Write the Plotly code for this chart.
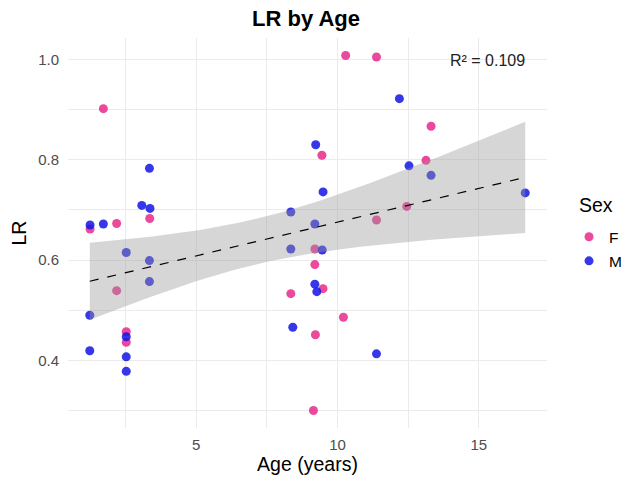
import numpy as np
import plotly.graph_objects as go

# Female observations
f_age = [1.72, 3.36, 2.19, 1.25, 2.19, 2.53, 2.53, 10.29, 11.38, 13.31, 9.45,
         13.13, 12.45, 11.38, 9.20, 9.20, 9.49, 8.35, 10.21, 9.22, 9.15]
f_lr = [0.902, 0.683, 0.673, 0.662, 0.539, 0.457, 0.436, 1.008, 1.005, 0.867, 0.809,
        0.799, 0.707, 0.680, 0.622, 0.591, 0.543, 0.533, 0.486, 0.451, 0.300]

# Male observations
m_age = [3.35, 3.08, 3.37, 1.25, 1.72, 2.53, 3.35, 3.35, 1.24, 2.53, 1.24, 2.53, 2.53,
         12.19, 9.23, 12.53, 13.31, 9.49, 16.64, 8.35, 9.20, 8.35, 9.46, 9.20, 9.27,
         8.42, 11.38]
m_lr = [0.783, 0.709, 0.703, 0.670, 0.672, 0.615, 0.599, 0.557, 0.490, 0.447, 0.419,
        0.407, 0.378, 0.922, 0.830, 0.788, 0.769, 0.736, 0.734, 0.696, 0.672, 0.622,
        0.620, 0.552, 0.537, 0.466, 0.413]

r2_label = "R² = 0.109"
x_ticks = [5, 10, 15]
y_ticks = [0.4, 0.6, 0.8, 1.0]
y_tick_text = ["0.4", "0.6", "0.8", "1.0"]

# Linear fit with 95% confidence band
x_all = np.array(f_age + m_age)
y_all = np.array(f_lr + m_lr)
n = len(x_all)
slope, intercept = np.polyfit(x_all, y_all, 1)
resid = y_all - (intercept + slope * x_all)
s = np.sqrt(np.sum(resid ** 2) / (n - 2))
sxx = np.sum((x_all - x_all.mean()) ** 2)
t_crit = 2.013
xs = np.linspace(x_all.min(), x_all.max(), 80)
ys = intercept + slope * xs
se = s * np.sqrt(1 / n + (xs - x_all.mean()) ** 2 / sxx)
lo, hi = ys - t_crit * se, ys + t_crit * se

pink = "rgba(231,41,138,0.85)"
blue = "rgba(20,20,230,0.85)"

fig = go.Figure()
fig.add_trace(go.Scatter(x=f_age, y=f_lr, mode="markers", name="F", legendgroup="F",
                         marker=dict(color=pink, size=9, line=dict(width=0))))
fig.add_trace(go.Scatter(x=m_age, y=m_lr, mode="markers", name="M", legendgroup="M",
                         marker=dict(color=blue, size=9, line=dict(width=0))))
# confidence ribbon drawn over the points
fig.add_trace(go.Scatter(x=np.concatenate([xs, xs[::-1]]), y=np.concatenate([hi, lo[::-1]]),
                         mode="lines", fill="toself", fillcolor="rgba(153,153,153,0.4)",
                         line=dict(width=0), showlegend=False, hoverinfo="skip"))
fig.add_trace(go.Scatter(x=xs, y=ys, mode="lines", showlegend=False,
                         line=dict(color="black", width=1.2, dash="dash")))

fig.add_annotation(x=15.3, y=0.998, text=r2_label, showarrow=False,
                   font=dict(size=16, color="#222222"), xanchor="center", yanchor="middle")

# legend heading
fig.add_annotation(x=1.0626, y=0.572, xref="paper", yref="paper", text="Sex",
                   showarrow=False, xanchor="left", yanchor="middle",
                   font=dict(size=19.5, color="black"))

grid = "#EBEBEB"
fig.update_layout(
    width=621, height=481,
    margin=dict(l=68, r=74, t=38, b=53, autoexpand=False),
    paper_bgcolor="white", plot_bgcolor="white",
    font=dict(family="Liberation Sans, Arial, sans-serif"),
    title=dict(text="<b>LR by Age</b>", x=306 / 621, xanchor="center",
               y=1 - 18 / 481, yanchor="middle", font=dict(size=22, color="black")),
    legend=dict(font=dict(size=15.5, color="black"), x=1.046, xanchor="left",
                y=0.533, yanchor="top", itemsizing="trace", tracegroupgap=1,
                traceorder="grouped", bgcolor="rgba(0,0,0,0)"),
    xaxis=dict(range=[0.47, 17.41], tickvals=x_ticks, showgrid=True, gridcolor=grid,
               gridwidth=1.1, zeroline=False, showline=False, ticks="", automargin=False,
               tickfont=dict(size=15, color="#4D4D4D"), ticklabelstandoff=6,
               minor=dict(dtick=2.5, tick0=0, showgrid=True, gridcolor=grid, gridwidth=0.6),
               title=dict(text="Age (years)", font=dict(size=19.5, color="black"), standoff=4)),
    yaxis=dict(range=[0.265, 1.043], tickvals=y_ticks, ticktext=y_tick_text, showgrid=True,
               gridcolor=grid, gridwidth=1.1, zeroline=False, showline=False, ticks="",
               automargin=False, tickfont=dict(size=15, color="#4D4D4D"), ticklabelstandoff=8,
               minor=dict(dtick=0.1, tick0=0, showgrid=True, gridcolor=grid, gridwidth=0.6),
               title=dict(text="LR", font=dict(size=19.5, color="black"), standoff=6)),
)

fig.write_html("out.html")
